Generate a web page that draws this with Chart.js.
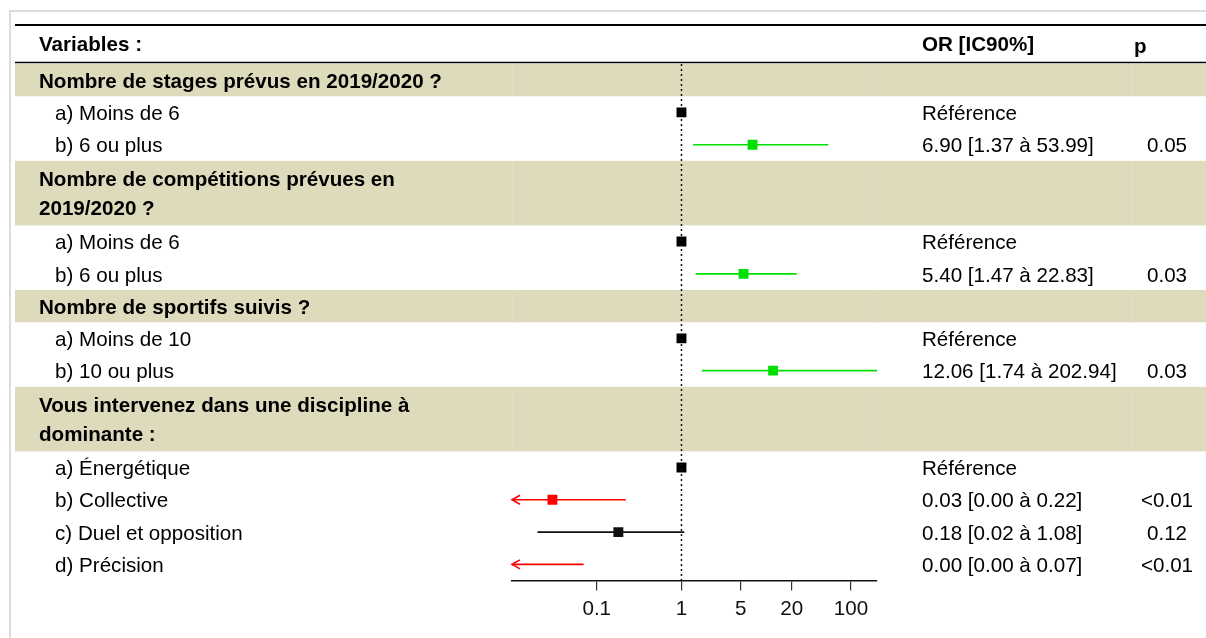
<!DOCTYPE html>
<html>
<head>
<meta charset="utf-8">
<script src="https://cdn.jsdelivr.net/npm/chart.js@4.4.1/dist/chart.umd.min.js"></script>
<style>
  html, body { margin: 0; padding: 0; background: #fff; }
  #wrap { position: relative; width: 1206px; height: 638px; }
</style>
</head>
<body>
<div id="wrap"><canvas id="forest" width="1206" height="638"></canvas></div>
<script>
// forest plot : OR [IC90%]

/* ==============================
   DONNEES
================================ */
const rowLabels = [
    'Nombre de stages prévus en 2019/2020 ?',
    'a) Moins de 6',
    'b) 6 ou plus',
    'Nombre de compétitions prévues en\n2019/2020 ?',
    'a) Moins de 6',
    'b) 6 ou plus',
    'Nombre de sportifs suivis ?',
    'a) Moins de 10',
    'b) 10 ou plus',
    'Vous intervenez dans une discipline à\ndominante :',
    'a) Énergétique',
    'b) Collective',
    'c) Duel et opposition',
    'd) Précision'
];
const isGroup  = [true, false, false, true, false, false, true, false, false, true, false, false, false, false];
const rowSpan  = [1, 1, 1, 2, 1, 1, 1, 1, 1, 2, 1, 1, 1, 1];

const oddsRatio = [null, 1, 6.90, null, 1, 5.40, null, 1, 12.06, null, 1, 0.03, 0.18, 0.00];
const ciLow     = [null, null, 1.37, null, null, 1.47, null, null, 1.74, null, null, 0.00, 0.02, 0.00];
const ciHigh    = [null, null, 53.99, null, null, 22.83, null, null, 202.94, null, null, 0.22, 1.08, 0.07];

const orLabels = ['', 'Référence', '6.90 [1.37 à 53.99]', '', 'Référence', '5.40 [1.47 à 22.83]',
                  '', 'Référence', '12.06 [1.74 à 202.94]', '', 'Référence',
                  '0.03 [0.00 à 0.22]', '0.18 [0.02 à 1.08]', '0.00 [0.00 à 0.07]'];
const pLabels  = ['', '', '0.05', '', '', '0.03', '', '', '0.03', '', '', '<0.01', '0.12', '<0.01'];

const markColors = ['', '#000000', '#00e000', '', '#000000', '#00e000', '', '#000000', '#00e000',
                    '', '#000000', '#ff0000', '#111111', '#ff0000'];

const tickValues = [0.1, 1, 5, 20, 100];
const axisMin = 0.01;
const axisMax = 202.94;

/* ==============================
   POSITIONS DES LIGNES
================================ */
const rowStart = [];
let cumul = 0;
rowSpan.forEach(s => { rowStart.push(cumul); cumul += s; });
const totalUnits = cumul;
const rowCenter = rowStart.map((s, i) => s + rowSpan[i] / 2);

/* ==============================
   DATASETS
================================ */
const datasets = [];

// ligne verticale OR = 1
datasets.push({
    type: 'line',
    data: [{ x: 1, y: 0 }, { x: 1, y: totalUnits }],
    borderColor: '#111',
    borderWidth: 1.5,
    borderDash: [2, 3],
    pointRadius: 0
});

// intervalles de confiance
ciLow.forEach((lo, i) => {
    if (lo === null) return;
    datasets.push({
        type: 'line',
        data: [{ x: Math.max(lo, axisMin), y: rowCenter[i] }, { x: ciHigh[i], y: rowCenter[i] }],
        borderColor: markColors[i],
        borderWidth: 1.6,
        pointRadius: 0
    });
});

// carrés OR
const pts = [];
const ptColors = [];
oddsRatio.forEach((v, i) => {
    if (v === null || v < axisMin) return;
    pts.push({ x: v, y: rowCenter[i] });
    ptColors.push(markColors[i]);
});
datasets.push({
    type: 'scatter',
    data: pts,
    pointStyle: 'rect',
    pointRadius: 7,
    pointBackgroundColor: ptColors,
    pointBorderColor: ptColors,
    pointBorderWidth: 0
});

/* ==============================
   PLUGIN TABLEAU
================================ */
const FONT = '"Liberation Sans", Arial, Helvetica, sans-serif';
const FSIZE = 20.6;
const TXT_DY = 2;

const tablePlugin = {
    id: 'tableau',
    beforeDatasetsDraw(chart) {
        const ctx = chart.ctx;
        const y = chart.scales.y;
        const W = chart.width;

        ctx.save();
        // cadre gris
        ctx.strokeStyle = '#dcdcdc';
        ctx.lineWidth = 2;
        ctx.beginPath();
        ctx.moveTo(10, 638);
        ctx.lineTo(10, 11);
        ctx.lineTo(W, 11);
        ctx.stroke();

        // bandes des groupes
        rowLabels.forEach((lab, i) => {
            if (!isGroup[i]) return;
            const y0 = y.getPixelForValue(rowStart[i]);
            const y1 = y.getPixelForValue(rowStart[i] + rowSpan[i]);
            ctx.fillStyle = '#dedbbd';
            ctx.fillRect(15, y0, W - 15, y1 - y0);
            ctx.strokeStyle = '#e2dfc5';
            ctx.lineWidth = 1;
            [512.5, 877.5, 1132.5].forEach(xx => {
                ctx.beginPath();
                ctx.moveTo(xx, y0);
                ctx.lineTo(xx, y1);
                ctx.stroke();
            });
        });

        // filets noirs
        ctx.strokeStyle = '#000';
        ctx.lineWidth = 2;
        ctx.beginPath();
        ctx.moveTo(15, 25);
        ctx.lineTo(W, 25);
        ctx.stroke();
        ctx.lineWidth = 1.5;
        ctx.beginPath();
        ctx.moveTo(15, 62.5);
        ctx.lineTo(W, 62.5);
        ctx.stroke();

        // en-tête
        ctx.fillStyle = '#000';
        ctx.textBaseline = 'middle';
        ctx.textAlign = 'left';
        ctx.font = 'bold ' + FSIZE + 'px ' + FONT;
        ctx.fillText('Variables :', 39, 45);
        ctx.fillText('OR [IC90%]', 922, 45);
        ctx.fillText('p', 1134, 47);

        // lignes
        rowLabels.forEach((lab, i) => {
            const yc = y.getPixelForValue(rowCenter[i]) + TXT_DY;
            if (isGroup[i]) {
                ctx.font = 'bold ' + FSIZE + 'px ' + FONT;
                const parts = lab.split('\n');
                parts.forEach((p, k) => {
                    const off = (k - (parts.length - 1) / 2) * 29;
                    ctx.fillText(p, 39, yc + off);
                });
            } else {
                ctx.font = FSIZE + 'px ' + FONT;
                ctx.textAlign = 'left';
                ctx.fillText(lab, 55, yc);
                ctx.fillText(orLabels[i], 922, yc);
                ctx.textAlign = 'center';
                ctx.fillText(pLabels[i], 1167, yc);
                ctx.textAlign = 'left';
            }
        });
        ctx.restore();
    },
    afterDatasetsDraw(chart) {
        // flèches pour les bornes hors échelle
        const ctx = chart.ctx;
        const x = chart.scales.x;
        const y = chart.scales.y;
        ctx.save();
        ciLow.forEach((lo, i) => {
            if (lo === null || lo >= axisMin) return;
            const xt = x.getPixelForValue(axisMin);
            const yc = y.getPixelForValue(rowCenter[i]);
            ctx.strokeStyle = markColors[i];
            ctx.lineWidth = 1.6;
            ctx.beginPath();
            ctx.moveTo(xt + 8, yc - 4.5);
            ctx.lineTo(xt, yc);
            ctx.lineTo(xt + 8, yc + 4.5);
            ctx.stroke();
        });
        ctx.restore();
    }
};

/* ==============================
   GRAPHIQUE
================================ */
new Chart(document.getElementById('forest'), {
    type: 'scatter',
    data: { datasets },
    options: {
        responsive: false,
        animation: false,
        layout: { padding: { left: 512, right: 329, top: 64, bottom: 0 } },
        plugins: {
            legend: { display: false },
            tooltip: { enabled: false }
        },
        scales: {
            x: {
                type: 'logarithmic',
                min: axisMin,
                max: axisMax,
                afterBuildTicks(scale) {
                    scale.ticks = tickValues.map(v => ({ value: v }));
                },
                afterFit(scale) {
                    scale.height = 57.5;
                },
                ticks: {
                    autoSkip: false,
                    maxRotation: 0,
                    padding: 6,
                    color: '#111',
                    font: { family: FONT, size: FSIZE },
                    callback: v => String(v)
                },
                grid: {
                    drawOnChartArea: false,
                    drawTicks: true,
                    tickLength: 10,
                    tickColor: '#333',
                    lineWidth: 1.2
                },
                border: { display: true, color: '#111', width: 1.5 }
            },
            y: {
                type: 'linear',
                min: 0,
                max: totalUnits,
                reverse: true,
                display: false
            }
        }
    },
    plugins: [tablePlugin]
});
</script>
</body>
</html>
